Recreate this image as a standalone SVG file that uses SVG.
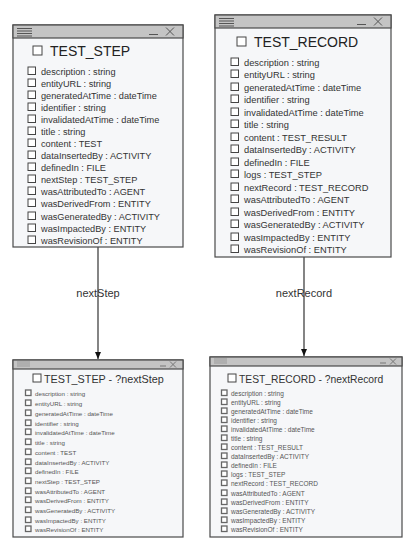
<svg xmlns="http://www.w3.org/2000/svg" width="409" height="548" viewBox="0 0 409 548">
<style>
.box{fill:#f6f7f9;stroke:#4a4a4a;stroke-width:1.2}
.hdr{fill:#c4c4c4;stroke:#4a4a4a;stroke-width:1.2}
.ic{stroke:#555;stroke-width:1;fill:none}
.cb{fill:#fff;stroke:#444;stroke-width:1}
.cbs{fill:#fff;stroke:#666;stroke-width:1.3}
text{font-family:"Liberation Sans",Arial,sans-serif}
.t1{font-size:14px;fill:#222}
.a1{font-size:9.2px;fill:#333}
.t2{font-size:10.8px;fill:#333}
.a2{font-size:6.2px;fill:#555}
.a3{font-size:6.5px;fill:#555}
.lbl{font-size:11px;fill:#333;text-anchor:middle}
.edge{stroke:#333;stroke-width:1.2;fill:none}
</style>
<defs>
<marker id="arr" markerWidth="8" markerHeight="8" refX="7" refY="4" orient="auto" markerUnits="userSpaceOnUse">
<path d="M0,1 L7,4 L0,7 Z" fill="#111"/>
</marker>
</defs>

<g id="edges">
<line class="edge" x1="98" y1="247" x2="98" y2="359" marker-end="url(#arr)"/>
<text class="lbl" x="98" y="297">nextStep</text>
<line class="edge" x1="304" y1="257" x2="304" y2="356" marker-end="url(#arr)"/>
<text class="lbl" x="304" y="297">nextRecord</text>
</g>

<g id="test_step">
<rect class="box" x="13" y="25" width="170" height="222"/>
<rect class="hdr" x="13" y="25" width="170" height="13"/>
<path class="ic" d="M17,28.5H32M17,31H32M17,33.5H32M17,36H32"/>
<path class="ic" d="M149,34.5H158M166,27.5L174,35.5M174,27.5L166,35.5"/>
<rect class="cb" x="33" y="46" width="9" height="9"/>
<text class="t1" x="50" y="56">TEST_STEP</text>
<g class="a1">
<rect class="cb" x="28" y="67" width="7.5" height="7.5"/><text x="41" y="74.5">description : string</text>
<rect class="cb" x="28" y="79" width="7.5" height="7.5"/><text x="41" y="86.5">entityURL : string</text>
<rect class="cb" x="28" y="91" width="7.5" height="7.5"/><text x="41" y="98.5">generatedAtTime : dateTime</text>
<rect class="cb" x="28" y="103" width="7.5" height="7.5"/><text x="41" y="110.5">identifier : string</text>
<rect class="cb" x="28" y="115" width="7.5" height="7.5"/><text x="41" y="122.5">invalidatedAtTime : dateTime</text>
<rect class="cb" x="28" y="127" width="7.5" height="7.5"/><text x="41" y="134.5">title : string</text>
<rect class="cb" x="28" y="139" width="7.5" height="7.5"/><text x="41" y="146.5">content : TEST</text>
<rect class="cb" x="28" y="151" width="7.5" height="7.5"/><text x="41" y="158.5">dataInsertedBy : ACTIVITY</text>
<rect class="cb" x="28" y="163" width="7.5" height="7.5"/><text x="41" y="170.5">definedIn : FILE</text>
<rect class="cb" x="28" y="175" width="7.5" height="7.5"/><text x="41" y="182.5">nextStep : TEST_STEP</text>
<rect class="cb" x="28" y="187" width="7.5" height="7.5"/><text x="41" y="194.5">wasAttributedTo : AGENT</text>
<rect class="cb" x="28" y="199" width="7.5" height="7.5"/><text x="41" y="206.5">wasDerivedFrom : ENTITY</text>
<rect class="cb" x="28" y="212" width="7.5" height="7.5"/><text x="41" y="219.5">wasGeneratedBy : ACTIVITY</text>
<rect class="cb" x="28" y="224" width="7.5" height="7.5"/><text x="41" y="231.5">wasImpactedBy : ENTITY</text>
<rect class="cb" x="28" y="236" width="7.5" height="7.5"/><text x="41" y="243.5">wasRevisionOf : ENTITY</text>
</g>
</g>

<g id="test_record">
<rect class="box" x="215" y="15" width="176" height="242"/>
<rect class="hdr" x="215" y="15" width="176" height="13"/>
<path class="ic" d="M219,18.5H234M219,21H234M219,23.5H234M219,26H234"/>
<path class="ic" d="M357,24.5H366M374,17.5L382,25.5M382,17.5L374,25.5"/>
<rect class="cb" x="237" y="37" width="9" height="9"/>
<text class="t1" x="254" y="47">TEST_RECORD</text>
<g class="a1" style="font-size:9.3px">
<rect class="cb" x="231" y="58" width="7.5" height="7.5"/><text x="244" y="65.5">description : string</text>
<rect class="cb" x="231" y="70" width="7.5" height="7.5"/><text x="244" y="77.5">entityURL : string</text>
<rect class="cb" x="231" y="83" width="7.5" height="7.5"/><text x="244" y="90.5">generatedAtTime : dateTime</text>
<rect class="cb" x="231" y="95" width="7.5" height="7.5"/><text x="244" y="102.5">identifier : string</text>
<rect class="cb" x="231" y="108" width="7.5" height="7.5"/><text x="244" y="115.5">invalidatedAtTime : dateTime</text>
<rect class="cb" x="231" y="120" width="7.5" height="7.5"/><text x="244" y="127.5">title : string</text>
<rect class="cb" x="231" y="133" width="7.5" height="7.5"/><text x="244" y="140.5">content : TEST_RESULT</text>
<rect class="cb" x="231" y="145" width="7.5" height="7.5"/><text x="244" y="152.5">dataInsertedBy : ACTIVITY</text>
<rect class="cb" x="231" y="158" width="7.5" height="7.5"/><text x="244" y="165.5">definedIn : FILE</text>
<rect class="cb" x="231" y="170" width="7.5" height="7.5"/><text x="244" y="177.5">logs : TEST_STEP</text>
<rect class="cb" x="231" y="183" width="7.5" height="7.5"/><text x="244" y="190.5">nextRecord : TEST_RECORD</text>
<rect class="cb" x="231" y="195" width="7.5" height="7.5"/><text x="244" y="202.5">wasAttributedTo : AGENT</text>
<rect class="cb" x="231" y="208" width="7.5" height="7.5"/><text x="244" y="215.5">wasDerivedFrom : ENTITY</text>
<rect class="cb" x="231" y="220" width="7.5" height="7.5"/><text x="244" y="227.5">wasGeneratedBy : ACTIVITY</text>
<rect class="cb" x="231" y="233" width="7.5" height="7.5"/><text x="244" y="240.5">wasImpactedBy : ENTITY</text>
<rect class="cb" x="231" y="245" width="7.5" height="7.5"/><text x="244" y="252.5">wasRevisionOf : ENTITY</text>
</g>
</g>

<g id="test_step_next">
<rect class="box" x="13" y="360" width="170" height="177"/>
<rect class="hdr" x="13" y="360" width="170" height="9"/>
<path class="ic" d="M17,362H30M17,364H30M17,366H30" style="stroke:#999"/>
<path class="ic" d="M160,366H166M170,361.5L176,367.5M176,361.5L170,367.5" style="stroke:#777"/>
<rect class="cb" x="33" y="374" width="8" height="8"/>
<text class="t2" x="44" y="383">TEST_STEP - ?nextStep</text>
<g class="a2">
<rect class="cbs" x="25.5" y="390" width="5.5" height="5.5"/><text x="35" y="395.5">description : string</text>
<rect class="cbs" x="25.5" y="400" width="5.5" height="5.5"/><text x="35" y="405.5">entityURL : string</text>
<rect class="cbs" x="25.5" y="410" width="5.5" height="5.5"/><text x="35" y="415.5">generatedAtTime : dateTime</text>
<rect class="cbs" x="25.5" y="420" width="5.5" height="5.5"/><text x="35" y="425.5">identifier : string</text>
<rect class="cbs" x="25.5" y="429" width="5.5" height="5.5"/><text x="35" y="434.5">invalidatedAtTime : dateTime</text>
<rect class="cbs" x="25.5" y="439" width="5.5" height="5.5"/><text x="35" y="444.5">title : string</text>
<rect class="cbs" x="25.5" y="449" width="5.5" height="5.5"/><text x="35" y="454.5">content : TEST</text>
<rect class="cbs" x="25.5" y="459" width="5.5" height="5.5"/><text x="35" y="464.5">dataInsertedBy : ACTIVITY</text>
<rect class="cbs" x="25.5" y="468" width="5.5" height="5.5"/><text x="35" y="473.5">definedIn : FILE</text>
<rect class="cbs" x="25.5" y="478" width="5.5" height="5.5"/><text x="35" y="483.5">nextStep : TEST_STEP</text>
<rect class="cbs" x="25.5" y="488" width="5.5" height="5.5"/><text x="35" y="493.5">wasAttributedTo : AGENT</text>
<rect class="cbs" x="25.5" y="497" width="5.5" height="5.5"/><text x="35" y="502.5">wasDerivedFrom : ENTITY</text>
<rect class="cbs" x="25.5" y="507" width="5.5" height="5.5"/><text x="35" y="512.5">wasGeneratedBy : ACTIVITY</text>
<rect class="cbs" x="25.5" y="517" width="5.5" height="5.5"/><text x="35" y="522.5">wasImpactedBy : ENTITY</text>
<rect class="cbs" x="25.5" y="526" width="5.5" height="5.5"/><text x="35" y="531.5">wasRevisionOf : ENTITY</text>
</g>
</g>

<g id="test_record_next">
<rect class="box" x="210" y="357" width="192" height="180"/>
<rect class="hdr" x="210" y="357" width="192" height="9"/>
<path class="ic" d="M214,359H227M214,361H227M214,363H227" style="stroke:#999"/>
<path class="ic" d="M380,363H386M390,358.5L396,364.5M396,358.5L390,364.5" style="stroke:#777"/>
<rect class="cb" x="228" y="374" width="8" height="8"/>
<text class="t2" x="239" y="383" style="font-size:10.3px">TEST_RECORD - ?nextRecord</text>
<g class="a3">
<rect class="cbs" x="221.5" y="390" width="5.5" height="5.5"/><text x="231" y="395.5">description : string</text>
<rect class="cbs" x="221.5" y="399" width="5.5" height="5.5"/><text x="231" y="404.5">entityURL : string</text>
<rect class="cbs" x="221.5" y="408" width="5.5" height="5.5"/><text x="231" y="413.5">generatedAtTime : dateTime</text>
<rect class="cbs" x="221.5" y="417" width="5.5" height="5.5"/><text x="231" y="422.5">identifier : string</text>
<rect class="cbs" x="221.5" y="426" width="5.5" height="5.5"/><text x="231" y="431.5">invalidatedAtTime : dateTime</text>
<rect class="cbs" x="221.5" y="435" width="5.5" height="5.5"/><text x="231" y="440.5">title : string</text>
<rect class="cbs" x="221.5" y="444" width="5.5" height="5.5"/><text x="231" y="449.5">content : TEST_RESULT</text>
<rect class="cbs" x="221.5" y="453" width="5.5" height="5.5"/><text x="231" y="458.5">dataInsertedBy : ACTIVITY</text>
<rect class="cbs" x="221.5" y="462" width="5.5" height="5.5"/><text x="231" y="467.5">definedIn : FILE</text>
<rect class="cbs" x="221.5" y="471" width="5.5" height="5.5"/><text x="231" y="476.5">logs : TEST_STEP</text>
<rect class="cbs" x="221.5" y="480" width="5.5" height="5.5"/><text x="231" y="485.5">nextRecord : TEST_RECORD</text>
<rect class="cbs" x="221.5" y="490" width="5.5" height="5.5"/><text x="231" y="495.5">wasAttributedTo : AGENT</text>
<rect class="cbs" x="221.5" y="499" width="5.5" height="5.5"/><text x="231" y="504.5">wasDerivedFrom : ENTITY</text>
<rect class="cbs" x="221.5" y="508" width="5.5" height="5.5"/><text x="231" y="513.5">wasGeneratedBy : ACTIVITY</text>
<rect class="cbs" x="221.5" y="517" width="5.5" height="5.5"/><text x="231" y="522.5">wasImpactedBy : ENTITY</text>
<rect class="cbs" x="221.5" y="526" width="5.5" height="5.5"/><text x="231" y="531.5">wasRevisionOf : ENTITY</text>
</g>
</g>
</svg>
